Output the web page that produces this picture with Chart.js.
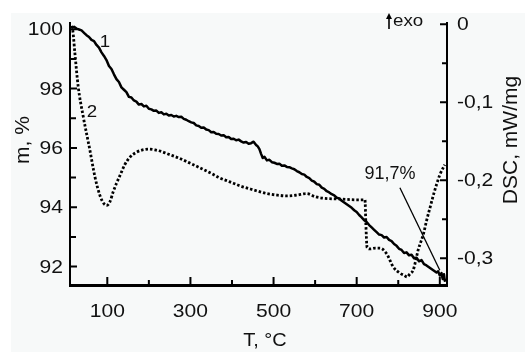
<!DOCTYPE html>
<html>
<head>
<meta charset="utf-8">
<script src="https://cdn.jsdelivr.net/npm/chart.js@4/dist/chart.umd.min.js"></script>
<style>
  html, body { margin: 0; padding: 0; background: #fff; }
  #wrap { width: 525px; height: 352px; }
</style>
</head>
<body>
<div id="wrap"><canvas id="chart" width="525" height="352"></canvas></div>
<script>
// curve 1: mass loss, m %
const massT = [14, 20, 26, 32, 38, 44, 50, 56, 62, 68, 74, 80, 86, 92, 98, 104, 110, 116, 122, 128,
    134, 140, 146, 152, 158, 164, 170, 176, 182, 188, 194, 200, 206, 212, 218, 224, 230, 236, 242, 248,
    254, 260, 266, 272, 278, 284, 290, 296, 302, 308, 314, 320, 326, 332, 338, 344, 350, 356, 362, 368,
    374, 380, 386, 392, 398, 404, 410, 416, 422, 428, 434, 440, 446, 452, 458, 462, 466, 470, 474, 478,
    484, 490, 496, 502, 508, 514, 520, 526, 532, 538, 544, 550, 556, 562, 568, 574, 580, 586, 592, 598,
    604, 610, 616, 622, 628, 634, 640, 646, 652, 658, 664, 670, 676, 682, 688, 694, 700, 706, 712, 718,
    724, 730, 736, 742, 748, 754, 760, 766, 772, 778, 784, 790, 796, 802, 808, 814, 820, 826, 832, 838,
    844, 850, 856, 862, 868, 874, 880, 886, 892, 896, 900, 904, 907, 910, 912, 914];
const massVal = [100.05, 100.08, 100.02, 99.99, 99.96, 99.88, 99.80, 99.74, 99.64, 99.60, 99.47, 99.38, 99.22, 99.10, 98.96, 98.76, 98.66, 98.48, 98.32, 98.22,
    98.04, 97.96, 97.88, 97.72, 97.70, 97.60, 97.56, 97.46, 97.48, 97.40, 97.42, 97.32, 97.30, 97.25, 97.26, 97.18, 97.20, 97.13, 97.15, 97.09,
    97.11, 97.06, 97.08, 97.04, 97.05, 96.98, 96.95, 96.90, 96.86, 96.84, 96.76, 96.74, 96.68, 96.69, 96.62, 96.60, 96.53, 96.54, 96.48, 96.47,
    96.42, 96.43, 96.36, 96.37, 96.30, 96.31, 96.26, 96.28, 96.22, 96.18, 96.20, 96.14, 96.16, 96.21, 96.10, 96.05, 95.96, 95.80, 95.66, 95.70,
    95.58, 95.60, 95.52, 95.50, 95.46, 95.47, 95.40, 95.41, 95.36, 95.35, 95.31, 95.28, 95.22, 95.18, 95.12, 95.10, 95.02, 94.98, 94.90, 94.86,
    94.78, 94.76, 94.66, 94.62, 94.54, 94.50, 94.44, 94.40, 94.32, 94.30, 94.22, 94.16, 94.10, 94.04, 93.98, 93.90, 93.84, 93.74, 93.66, 93.56,
    93.50, 93.40, 93.32, 93.24, 93.16, 93.08, 93.06, 92.98, 93.00, 92.90, 92.86, 92.76, 92.70, 92.60, 92.56, 92.46, 92.48, 92.38, 92.40, 92.28,
    92.30, 92.18, 92.22, 92.08, 92.04, 91.98, 91.92, 91.86, 91.80, 91.84, 91.70, 91.78, 91.58, 91.74, 91.52, 91.60];

// curve 2: DSC, mW/mg
const dscT = [14, 17, 22, 30, 42, 58, 70, 82, 92, 99, 106, 114, 122, 132, 142, 155, 170, 185, 200, 215,
    230, 250, 270, 295, 323, 350, 371, 395, 419, 450, 484, 510, 532, 555, 580, 600, 620, 660, 700, 720,
    722, 725, 732, 745, 756, 772, 788, 804, 815, 821, 828, 836, 842, 848, 855, 861, 868, 877, 885, 893,
    900, 908, 912];
const dscVal = [-0.002, -0.008, -0.037, -0.080, -0.118, -0.161, -0.195, -0.219, -0.230, -0.232, -0.228, -0.215, -0.204, -0.192, -0.180, -0.170, -0.164, -0.161, -0.160, -0.161,
    -0.163, -0.167, -0.171, -0.177, -0.184, -0.191, -0.197, -0.202, -0.207, -0.212, -0.217, -0.219, -0.220, -0.219, -0.217, -0.221, -0.223, -0.224, -0.225, -0.225,
    -0.255, -0.286, -0.288, -0.287, -0.287, -0.294, -0.311, -0.319, -0.322, -0.324, -0.320, -0.315, -0.303, -0.289, -0.278, -0.268, -0.252, -0.234, -0.218, -0.204,
    -0.193, -0.184, -0.180];

// ticks
const xTicks = [100, 300, 500, 700, 900];
const xMinor = [200, 400, 600, 800];
const mTicks = [92, 94, 96, 98, 100];
const mMinor = [93, 95, 97, 99];
const dscTicks = [0, -0.1, -0.2, -0.3];
const dscLabels = ['0', '-0,1', '-0,2', '-0,3'];
const dscMinor = [-0.05, -0.15, -0.25];

const FONT = "'Liberation Sans', Arial, sans-serif";

function drawText(ctx, str, x, y, size, align, base, sx, rot) {
    ctx.save();
    ctx.translate(x, y);
    if (rot) ctx.rotate(rot);
    ctx.scale(sx || 1, 1);
    ctx.font = size + 'px ' + FONT;
    ctx.fillStyle = '#111';
    ctx.textAlign = align;
    ctx.textBaseline = base;
    ctx.fillText(str, 0, 0);
    ctx.restore();
}

const backdrop = {
    id: 'backdrop',
    beforeDraw(chart) {
        const ctx = chart.ctx;
        ctx.save();
        ctx.fillStyle = '#fff';
        ctx.fillRect(0, 0, chart.width, chart.height);
        ctx.fillStyle = '#f7f9f9';
        ctx.fillRect(11, 13, chart.width - 11, chart.height - 13);
        ctx.restore();
    }
};

const decor = {
    id: 'decor',
    afterDraw(chart) {
        const ctx = chart.ctx;
        const area = chart.chartArea;
        const sx = chart.scales.x, sm = chart.scales.y, sd = chart.scales.y1;

        ctx.save();
        ctx.strokeStyle = '#000';
        ctx.lineWidth = 2;
        ctx.beginPath();
        // inward tick marks
        xTicks.forEach(v => { const p = sx.getPixelForValue(v); ctx.moveTo(p, area.bottom); ctx.lineTo(p, area.bottom - 8); });
        xMinor.forEach(v => { const p = sx.getPixelForValue(v); ctx.moveTo(p, area.bottom); ctx.lineTo(p, area.bottom - 5); });
        mTicks.forEach(v => { const p = sm.getPixelForValue(v); ctx.moveTo(area.left, p); ctx.lineTo(area.left + 7, p); });
        mMinor.forEach(v => { const p = sm.getPixelForValue(v); ctx.moveTo(area.left, p); ctx.lineTo(area.left + 6, p); });
        dscTicks.forEach(v => { const p = sd.getPixelForValue(v); ctx.moveTo(area.right, p); ctx.lineTo(area.right - 7, p); });
        dscMinor.forEach(v => { const p = sd.getPixelForValue(v); ctx.moveTo(area.right, p); ctx.lineTo(area.right - 5, p); });
        ctx.stroke();

        // pointer to the final mass
        ctx.lineWidth = 1.3;
        ctx.beginPath();
        ctx.moveTo(sx.getPixelForValue(804), sm.getPixelForValue(94.66));
        ctx.lineTo(sx.getPixelForValue(900), sm.getPixelForValue(91.88));
        ctx.stroke();

        // exo arrow
        ctx.lineWidth = 1.6;
        ctx.beginPath();
        ctx.moveTo(389, 29);
        ctx.lineTo(389, 17);
        ctx.stroke();
        ctx.fillStyle = '#000';
        ctx.beginPath();
        ctx.moveTo(389, 13);
        ctx.lineTo(386, 19);
        ctx.lineTo(392, 19);
        ctx.closePath();
        ctx.fill();
        ctx.restore();

        // tick labels
        xTicks.forEach(v => drawText(ctx, String(v), sx.getPixelForValue(v), 317, 18, 'center', 'alphabetic', 1.17));
        mTicks.forEach(v => drawText(ctx, String(v), 63, sm.getPixelForValue(v) + 1, 18, 'right', 'middle', 1.17));
        dscTicks.forEach((v, i) => drawText(ctx, dscLabels[i], 457, sd.getPixelForValue(v) + 1, 18, 'left', 'middle', 1.17));

        // axis titles
        drawText(ctx, 'T, °C', 265, 346, 19, 'center', 'alphabetic', 1.05);
        drawText(ctx, 'm, %', 23, 140, 21, 'center', 'middle', 1, -Math.PI / 2);
        drawText(ctx, 'DSC, mW/mg', 511, 140, 21, 'center', 'middle', 1, -Math.PI / 2);

        // annotations
        drawText(ctx, 'exo', 393, 22, 16, 'left', 'middle', 1.17);
        drawText(ctx, '91,7%', 390, 174, 18, 'center', 'middle', 1);
        drawText(ctx, '1', 105, 42, 17, 'center', 'middle', 1.1);
        drawText(ctx, '2', 92, 112, 17, 'center', 'middle', 1.1);
    }
};

new Chart(document.getElementById('chart'), {
    type: 'line',
    data: {
        datasets: [
            {
                label: '1',
                data: massT.map((t, i) => ({ x: t, y: massVal[i] })),
                yAxisID: 'y',
                borderColor: '#000',
                borderWidth: 2.5,
                borderJoinStyle: 'round',
                pointRadius: 0,
                tension: 0
            },
            {
                label: '2',
                data: dscT.map((t, i) => ({ x: t, y: dscVal[i] })),
                yAxisID: 'y1',
                borderColor: '#000',
                borderWidth: 2.8,
                borderDash: [2.5, 2],
                pointRadius: 0,
                cubicInterpolationMode: 'monotone'
            }
        ]
    },
    options: {
        responsive: false,
        animation: false,
        layout: { padding: { top: 23, left: 0, right: 0, bottom: 0 } },
        plugins: { legend: { display: false }, tooltip: { enabled: false } },
        scales: {
            x: {
                type: 'linear',
                min: 10.25,
                max: 917.3,
                ticks: { display: false },
                grid: { display: false },
                border: { display: true, width: 3, color: '#000' },
                afterFit(s) { s.height = 67; }
            },
            y: {
                position: 'left',
                min: 91.38,
                max: 100.21,
                ticks: { display: false },
                grid: { display: false },
                border: { display: true, width: 2, color: '#000' },
                afterFit(s) { s.width = 70; }
            },
            y1: {
                position: 'right',
                min: -0.3342,
                max: 0.0017,
                ticks: { display: false },
                grid: { display: false },
                border: { display: true, width: 2, color: '#000' },
                afterFit(s) { s.width = 78; }
            }
        }
    },
    plugins: [backdrop, decor]
});
</script>
</body>
</html>
